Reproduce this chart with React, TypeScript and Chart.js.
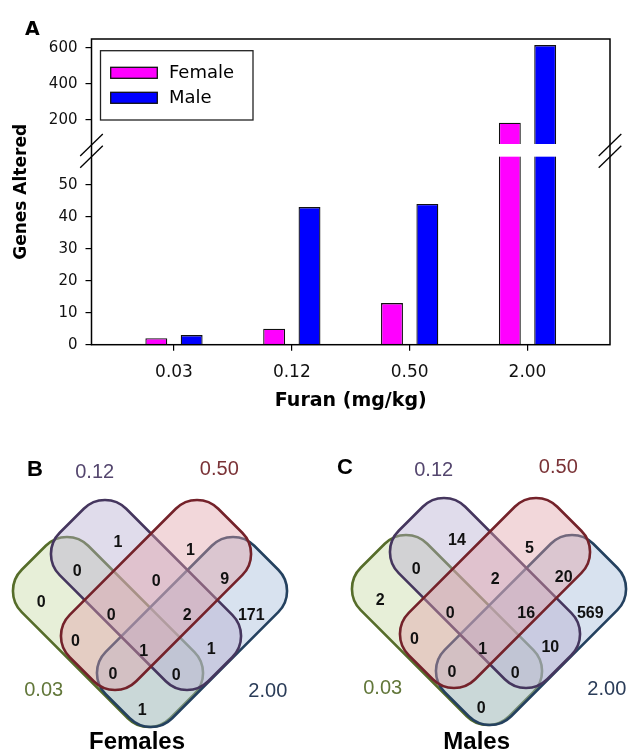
import React, { useEffect, useRef } from 'react';
import { Chart, registerables } from 'chart.js';

Chart.register(...registerables);

// ---------- Panel A data ----------
const DOSES = ['0.03', '0.12', '0.50', '2.00'];
const FEMALE_GENES = [2, 5, 13, 185];
const MALE_GENES = [3, 43, 44, 616];
const LOWER_TICKS = [0, 10, 20, 30, 40, 50];
const UPPER_TICKS = [200, 400, 600];
// broken value axis: lower segment and upper segment
const LOWER_MIN = 0;
const LOWER_MAX = 62.4;
const BREAK_LOW = 58.75;
const UPPER_MIN = 61;
const UPPER_MAX = 650;

// ---------- Venn data (panels B, C) ----------
const VENN_REGIONS = [
  '0.03 only', '0.12 only', '0.50 only', '2.00 only',
  '0.03+0.12', '0.12+0.50', '0.50+2.00',
  '0.03+0.12+0.50', '0.12+0.50+2.00', '0.03+0.50', 'all four',
  '0.12+2.00', '0.03+0.50+2.00', '0.03+0.12+2.00', '0.03+2.00',
];
const FEMALE_COUNTS = [0, 1, 1, 171, 0, 0, 9, 0, 2, 0, 1, 1, 0, 0, 1];
const MALE_COUNTS = [2, 14, 5, 569, 0, 2, 20, 0, 16, 0, 1, 10, 0, 0, 0];

// ---------- layout / style constants ----------
const FONT_A = '"DejaVu Sans", sans-serif';
const FONT_V = '"Liberation Sans", Arial, sans-serif';

// label positions of the 15 Venn regions (diagram units, relative to diagram centre)
const REGION_POS: [number, number][] = [
  [-108.7, 7.7], [-32, -52.3], [40.5, -44.8], [101.3, 20.2],
  [-72.8, -23.2], [6.3, -13.2], [74.7, -15.7],
  [-38.7, 20.2], [37.2, 21], [-74.5, 46.8], [-6.2, 56.8],
  [61.3, 54.3], [-37, 79.3], [26.3, 80.2], [-7.8, 115.2],
];

const SET_STYLE = [
  { stroke: '#566d2a', fill: 'rgba(197,217,162,0.42)', text: '#62773a', cx: -42, cy: 37, rot: 45, label: [-106.3, 95] },
  { stroke: '#45365e', fill: 'rgba(182,172,207,0.42)', text: '#54466e', cx: -4, cy: 0, rot: 45, label: [-55.3, -123] },
  { stroke: '#74222a', fill: 'rgba(225,160,167,0.42)', text: '#7a3236', cx: 6, cy: 0, rot: -45, label: [69.3, -126] },
  { stroke: '#24415f', fill: 'rgba(162,187,217,0.42)', text: '#2a3c58', cx: 42, cy: 37, rot: -45, label: [117.8, 96] },
];
const DRAW_ORDER = [0, 3, 1, 2];
const HALF_LEN = 105;
const HALF_WID = 47;
const CORNER = 30;

const VENN_TOP = 440;
const VENN_W = 315;
const VENN_H = 310;

const PANELS = [
  { letter: 'B', title: 'Females', counts: FEMALE_COUNTS, left: 0, center: [150, 595], letterAt: [-115, -125], titleAt: [-13, 147] },
  { letter: 'C', title: 'Males', counts: MALE_COUNTS, left: 315, center: [489, 593], letterAt: [-144, -125], titleAt: [-12.3, 149] },
];

function BarPanel() {
  const ref = useRef<HTMLCanvasElement>(null);
  useEffect(() => {
    const gridOpts = { display: true, offset: false, drawOnChartArea: false, drawTicks: true, tickLength: 6, color: '#000', lineWidth: 1.2 };
    const tickFontY = { family: FONT_A, size: 15 };

    const brokenAxis = {
      id: 'brokenAxis',
      afterDatasetsDraw(chart: any) {
        const { ctx, chartArea } = chart;
        const { left, right, top, bottom } = chartArea;
        const yLow = chart.scales.yLow;
        const yHigh = chart.scales.yHigh;
        const gapTop = yHigh.bottom;
        const gapBottom = yLow.getPixelForValue(BREAK_LOW);
        ctx.save();
        // white break band across bars
        ctx.fillStyle = '#fff';
        ctx.fillRect(left + 1, gapTop - 1, right - left - 2, gapBottom - gapTop + 1);
        // frame
        ctx.strokeStyle = '#000';
        ctx.lineWidth = 1.5;
        ctx.strokeRect(left, top, right - left, bottom - top);
        // slashes
        ctx.lineWidth = 1.3;
        for (const x of [left, right]) {
          for (const y of [gapTop, gapBottom]) {
            ctx.beginPath();
            ctx.moveTo(x - 11.3, y + 11);
            ctx.lineTo(x + 11.3, y - 11);
            ctx.stroke();
          }
        }
        // legend
        const bx = left + 9;
        const by = top + 11.7;
        ctx.lineWidth = 1.3;
        ctx.strokeStyle = '#222';
        ctx.strokeRect(bx, by, 152.5, 69.3);
        const items = chart.data.datasets.filter((d: any) => d.inLegend);
        items.forEach((d: any, i: number) => {
          const sy = top + 28.3 + i * 25;
          ctx.fillStyle = d.backgroundColor;
          ctx.fillRect(left + 19.2, sy, 46.6, 11);
          ctx.strokeStyle = '#111';
          ctx.lineWidth = 1.3;
          ctx.strokeRect(left + 19.2, sy, 46.6, 11);
          ctx.fillStyle = '#000';
          ctx.font = `18px ${FONT_A}`;
          ctx.textAlign = 'left';
          ctx.textBaseline = 'middle';
          ctx.fillText(d.label, left + 77.5, sy + 6);
        });
        // panel letter
        ctx.fillStyle = '#000';
        ctx.font = `bold 19px ${FONT_A}`;
        ctx.textAlign = 'left';
        ctx.textBaseline = 'alphabetic';
        ctx.fillText('A', 25, 35);
        // y title
        ctx.save();
        ctx.translate(22, (top + bottom) / 2);
        ctx.rotate(-Math.PI / 2);
        ctx.font = `bold 17px ${FONT_A}`;
        ctx.textAlign = 'center';
        ctx.textBaseline = 'middle';
        ctx.fillText('Genes Altered', 0, 0);
        ctx.restore();
        ctx.restore();
      },
    };

    const barCommon = { borderColor: '#111', borderWidth: 1.3, categoryPercentage: 0.6, barPercentage: 0.62 };
    const chart = new Chart(ref.current as HTMLCanvasElement, {
      type: 'bar',
      data: {
        datasets: [
          { ...barCommon, label: 'Female', inLegend: true, yAxisID: 'yLow', stack: 'female', backgroundColor: '#ff00ff',
            data: FEMALE_GENES.map((v, i) => ({ x: i, y: Math.min(v, LOWER_MAX) })) },
          { ...barCommon, label: 'Male', inLegend: true, yAxisID: 'yLow', stack: 'male', backgroundColor: '#0000ff',
            data: MALE_GENES.map((v, i) => ({ x: i, y: Math.min(v, LOWER_MAX) })) },
          { ...barCommon, label: 'Female', yAxisID: 'yHigh', stack: 'female', backgroundColor: '#ff00ff',
            data: FEMALE_GENES.flatMap((v, i) => (v > LOWER_MAX ? [{ x: i, y: [UPPER_MIN, v] }] : [])) },
          { ...barCommon, label: 'Male', yAxisID: 'yHigh', stack: 'male', backgroundColor: '#0000ff',
            data: MALE_GENES.flatMap((v, i) => (v > LOWER_MAX ? [{ x: i, y: [UPPER_MIN, v] }] : [])) },
        ] as any,
      },
      options: {
        animation: false,
        responsive: false,
        events: [],
        layout: { padding: { left: 0, right: 20, top: 39, bottom: 0 } },
        plugins: { legend: { display: false }, tooltip: { enabled: false } },
        scales: {
          x: {
            type: 'linear',
            min: -0.7,
            max: 3.7,
            bounds: 'data',
            offset: false,
            grid: gridOpts,
            border: { display: false },
            ticks: {
              font: { family: FONT_A, size: 17 },
              color: '#111',
              padding: 12,
              maxRotation: 0,
              autoSkip: false,
              callback: (_v: any, i: number) => DOSES[i],
            },
            afterBuildTicks: (s: any) => { s.ticks = DOSES.map((_, i) => ({ value: i })); },
            afterFit: (s: any) => { s.height = 75.3; },
            title: {
              display: true,
              text: 'Furan (mg/kg)',
              font: { family: FONT_A, size: 19, weight: 'bold' },
              color: '#000',
              padding: { top: 0, bottom: 7.2 },
            },
          },
          yLow: {
            type: 'linear',
            position: 'left',
            stack: 'genes',
            stackWeight: 199.7,
            min: LOWER_MIN,
            max: LOWER_MAX,
            bounds: 'data',
            grid: gridOpts,
            border: { display: false },
            ticks: { font: tickFontY, color: '#111', padding: 8 },
            afterBuildTicks: (s: any) => { s.ticks = LOWER_TICKS.map((v) => ({ value: v })); },
            afterFit: (s: any) => { s.width = 91.5; },
          },
          yHigh: {
            type: 'linear',
            position: 'left',
            stack: 'genes',
            stackWeight: 106,
            min: UPPER_MIN,
            max: UPPER_MAX,
            bounds: 'data',
            grid: gridOpts,
            border: { display: false },
            ticks: { font: tickFontY, color: '#111', padding: 8 },
            afterBuildTicks: (s: any) => { s.ticks = UPPER_TICKS.map((v) => ({ value: v })); },
            afterFit: (s: any) => { s.width = 91.5; },
          },
        },
      } as any,
      plugins: [brokenAxis],
    });
    return () => chart.destroy();
  }, []);
  return <canvas ref={ref} width={630} height={420} style={{ position: 'absolute', left: 0, top: 0 }} />;
}

function VennPanel({ panel }: { panel: any }) {
  const ref = useRef<HTMLCanvasElement>(null);
  useEffect(() => {
    const xMin = -(panel.center[0] - panel.left);
    const yMin = -(panel.center[1] - VENN_TOP);
    const vennPlugin = {
      id: 'vennShapes',
      beforeDatasetsDraw(chart: any) {
        const { ctx } = chart;
        const { x, y } = chart.scales;
        const k = x.getPixelForValue(1) - x.getPixelForValue(0);
        for (const si of DRAW_ORDER) {
          const s = SET_STYLE[si];
          ctx.save();
          ctx.translate(x.getPixelForValue(s.cx), y.getPixelForValue(s.cy));
          ctx.rotate((s.rot * Math.PI) / 180);
          ctx.beginPath();
          ctx.roundRect(-HALF_LEN * k, -HALF_WID * k, 2 * HALF_LEN * k, 2 * HALF_WID * k, CORNER * k);
          ctx.fillStyle = s.fill;
          ctx.fill();
          ctx.lineWidth = 2.6;
          ctx.strokeStyle = s.stroke;
          ctx.stroke();
          ctx.restore();
        }
      },
      afterDatasetsDraw(chart: any) {
        const { ctx } = chart;
        const { x, y } = chart.scales;
        const ds = chart.data.datasets[0];
        const meta = chart.getDatasetMeta(0);
        ctx.save();
        ctx.textAlign = 'center';
        ctx.textBaseline = 'middle';
        ctx.fillStyle = '#111';
        ctx.font = `bold 16px ${FONT_V}`;
        meta.data.forEach((el: any, i: number) => {
          ctx.fillText(String(ds.data[i].n), el.x, el.y);
        });
        ctx.font = `20px ${FONT_V}`;
        SET_STYLE.forEach((s, i) => {
          ctx.fillStyle = s.text;
          ctx.fillText(DOSES[i], x.getPixelForValue(s.label[0]), y.getPixelForValue(s.label[1]));
        });
        ctx.fillStyle = '#000';
        ctx.font = `bold 22px ${FONT_V}`;
        ctx.fillText(panel.letter, x.getPixelForValue(panel.letterAt[0]), y.getPixelForValue(panel.letterAt[1]));
        ctx.font = `bold 24px ${FONT_V}`;
        ctx.fillText(panel.title, x.getPixelForValue(panel.titleAt[0]), y.getPixelForValue(panel.titleAt[1]));
        ctx.restore();
      },
    };
    const chart = new Chart(ref.current as HTMLCanvasElement, {
      type: 'scatter',
      data: {
        datasets: [
          {
            label: panel.title,
            data: REGION_POS.map(([px, py], i) => ({ x: px, y: py, n: panel.counts[i], region: VENN_REGIONS[i] })),
            pointRadius: 0,
            pointHoverRadius: 0,
          },
        ] as any,
      },
      options: {
        animation: false,
        responsive: false,
        events: [],
        layout: { padding: 0 },
        plugins: { legend: { display: false }, tooltip: { enabled: false } },
        scales: {
          x: { type: 'linear', display: false, min: xMin, max: xMin + VENN_W, bounds: 'data' },
          y: { type: 'linear', display: false, min: yMin, max: yMin + VENN_H, reverse: true, bounds: 'data' },
        },
      } as any,
      plugins: [vennPlugin],
    });
    return () => chart.destroy();
  }, [panel]);
  return (
    <canvas
      ref={ref}
      width={VENN_W}
      height={VENN_H}
      style={{ position: 'absolute', left: panel.left, top: VENN_TOP }}
    />
  );
}

export default function App() {
  return (
    <div style={{ position: 'absolute', left: 0, top: 0, width: 630, height: 750, background: '#fff', overflow: 'hidden' }}>
      <BarPanel />
      <VennPanel panel={PANELS[0]} />
      <VennPanel panel={PANELS[1]} />
    </div>
  );
}
